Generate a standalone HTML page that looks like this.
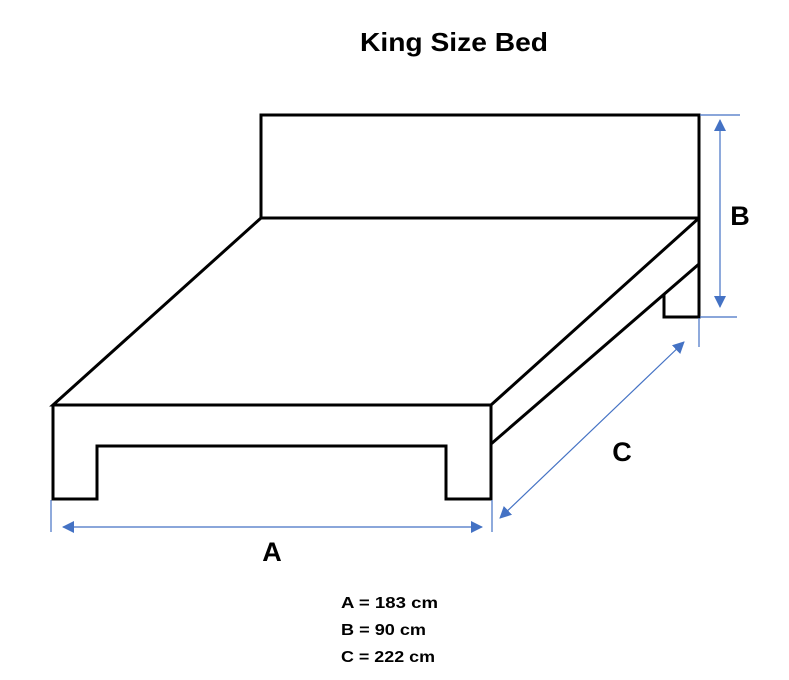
<!DOCTYPE html>
<html><head><meta charset="utf-8"><style>html,body{margin:0;padding:0;background:#fff}svg{display:block}</style></head>
<body>
<svg width="789" height="680" viewBox="0 0 789 680" xmlns="http://www.w3.org/2000/svg" font-family="Liberation Sans, sans-serif" font-weight="bold">
<defs>
<marker id="ar" viewBox="0 0 12 12" refX="11" refY="6" markerWidth="12" markerHeight="12" markerUnits="userSpaceOnUse" orient="auto-start-reverse"><path d="M0,0L12,6L0,12z" fill="#4472c4"/></marker>
</defs>
<text x="454" y="51" text-anchor="middle" font-size="26" textLength="188" lengthAdjust="spacingAndGlyphs">King Size Bed</text>
<g fill="none" stroke="#000" stroke-width="3" stroke-linejoin="miter">
<path d="M261,218 V115 H699 V317 H664 V295"/>
<path d="M261,218 H699"/>
<path d="M261,218 L53,405 H491 L699,218"/>
<path d="M491,444 L699,264"/>
<path d="M53,405 V499 H97 V446 H446 V499 H491 V405"/>
</g>
<g stroke="#4472c4" stroke-width="1.2" fill="none">
<line x1="51" y1="500" x2="51" y2="532"/>
<line x1="492" y1="500" x2="492" y2="532"/>
<line x1="700" y1="115" x2="740" y2="115"/>
<line x1="700" y1="317" x2="737" y2="317"/>
<line x1="699" y1="318" x2="699" y2="347"/>
<line x1="63" y1="527" x2="482" y2="527" marker-start="url(#ar)" marker-end="url(#ar)"/>
<line x1="720" y1="120" x2="720" y2="307" marker-start="url(#ar)" marker-end="url(#ar)"/>
<line x1="500" y1="518" x2="684" y2="342" marker-start="url(#ar)" marker-end="url(#ar)"/>
</g>
<text x="740" y="225" text-anchor="middle" font-size="27">B</text>
<text x="622" y="461" text-anchor="middle" font-size="27">C</text>
<text x="272" y="561" text-anchor="middle" font-size="27">A</text>
<g font-size="16">
<text x="341" y="608" textLength="97" lengthAdjust="spacingAndGlyphs">A = 183 cm</text>
<text x="341" y="635" textLength="85" lengthAdjust="spacingAndGlyphs">B = 90 cm</text>
<text x="341" y="662" textLength="94" lengthAdjust="spacingAndGlyphs">C = 222 cm</text>
</g>
</svg>
</body></html>
